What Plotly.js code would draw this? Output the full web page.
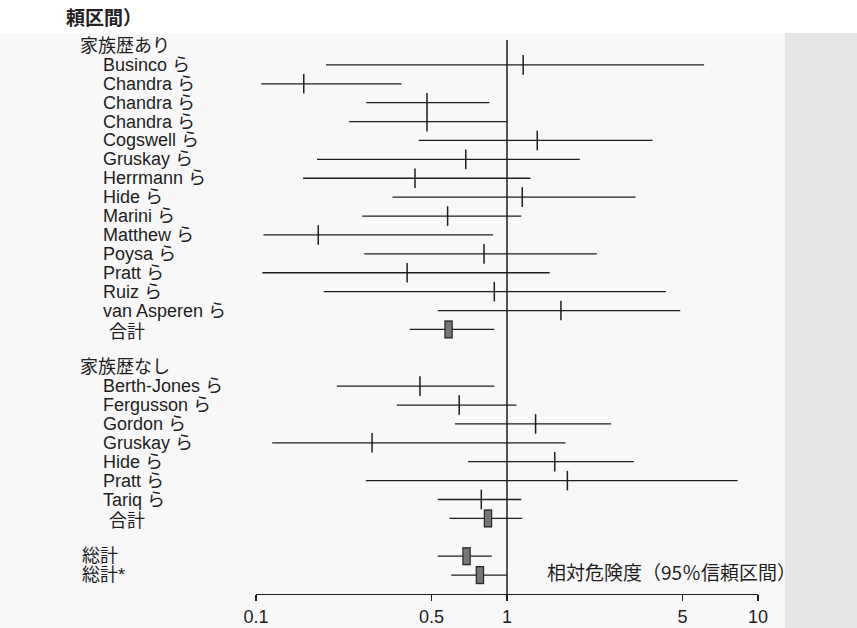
<!DOCTYPE html>
<html>
<head>
<meta charset="utf-8">
<script src="https://cdn.plot.ly/plotly-3.0.1.min.js"></script>
<style>html,body{margin:0;padding:0;background:#f8f8f8;}#chart{width:857px;height:628px;}</style>
</head>
<body>
<div id="chart"></div>
<script>
// ---- data (one entry per row, top to bottom) ----
const rowLabels = ['家族歴あり','Businco ら','Chandra ら','Chandra ら','Chandra ら','Cogswell ら','Gruskay ら','Herrmann ら','Hide ら','Marini ら','Matthew ら','Poysa ら','Pratt ら','Ruiz ら','van Asperen ら','合計','',
  '家族歴なし','Berth-Jones ら','Fergusson ら','Gordon ら','Gruskay ら','Hide ら','Pratt ら','Tariq ら','合計','',
  '総計','総計*'];
const rowKind = ['head','study','study','study','study','study','study','study','study','study','study','study','study','study','study','pool','blank',
  'head','study','study','study','study','study','study','study','pool','blank',
  'total','total'];
const lower = [null,0.19,0.105,0.275,0.235,0.445,0.175,0.154,0.35,0.265,0.107,0.27,0.106,0.186,0.53,0.41,null,
  null,0.21,0.364,0.62,0.116,0.70,0.274,0.53,0.59,null,
  0.53,0.60];
const estimate = [null,1.16,0.155,0.48,0.48,1.32,0.685,0.43,1.15,0.58,0.177,0.81,0.40,0.89,1.64,0.585,null,
  null,0.45,0.645,1.30,0.29,1.55,1.74,0.79,0.84,null,
  0.69,0.78];
const upper = [null,6.1,0.38,0.85,1.0,3.8,1.95,1.24,3.25,1.14,0.88,2.28,1.48,4.3,4.9,0.89,null,
  null,0.89,1.09,2.6,1.71,3.2,8.3,1.14,1.15,null,
  0.87,1.0];
const tickValues = [0.1,0.5,1,5,10];
const tickLabels = ['0.1','0.5','1','5','10'];
const axisTitle = '相対危険度（95％信頼区間）';
const caption = '頼区間）';

// ---- build traces ----
const ciX = [], ciY = [];
const stX = [], stY = [], poX = [], poY = [];
rowLabels.forEach((lab, i) => {
  if (lower[i] == null) return;
  ciX.push(lower[i], upper[i], null);
  ciY.push(i, i, null);
  if (rowKind[i] === 'study') { stX.push(estimate[i]); stY.push(i); }
  else { poX.push(estimate[i]); poY.push(i); }
});

const ink = '#1e1e1e';
const traces = [
  {x: ciX, y: ciY, type: 'scatter', mode: 'lines', line: {color: ink, width: 1.3}, hoverinfo: 'skip', showlegend: false},
  {x: stX, y: stY, type: 'scatter', mode: 'markers', marker: {symbol: 'line-ns', size: 14, line: {color: ink, width: 1.5}}, showlegend: false},
  {x: poX, y: poY, type: 'scatter', mode: 'markers', marker: {symbol: 'line-ns', size: 13, line: {color: '#2a2a2a', width: 8.5}}, showlegend: false},
  {x: poX, y: poY, type: 'scatter', mode: 'markers', marker: {symbol: 'line-ns', size: 11, line: {color: '#767676', width: 6}}, showlegend: false}
];

// ---- label annotations ----
const L = 256, W = 502;
const px2x = p => (p - L) / W;
const px2y = p => (594 - p) / 554;
const indent = {head: 78, study: 101, pool: 107, total: 80};
const shiftY = {head: 0, study: 0, pool: -3, total: 0};
const fontFam = 'Liberation Sans, Arial, Noto Sans CJK JP, sans-serif';
const annotations = [];
rowLabels.forEach((lab, i) => {
  if (!lab) return;
  annotations.push({xref: 'paper', yref: 'y', x: px2x(indent[rowKind[i]]), y: i, yshift: shiftY[rowKind[i]],
    xanchor: 'left', yanchor: 'middle', text: lab, showarrow: false,
    font: {family: fontFam, size: 18, color: ink}});
});
annotations.push({xref: 'paper', yref: 'paper', x: px2x(545), y: px2y(571), xanchor: 'left', yanchor: 'middle',
  text: axisTitle, showarrow: false, font: {family: 'Noto Sans CJK JP, sans-serif', size: 19, color: ink}});
annotations.push({xref: 'paper', yref: 'paper', x: px2x(64), y: px2y(16), xanchor: 'left', yanchor: 'middle',
  text: '<b>' + caption + '</b>', showarrow: false, font: {family: 'Noto Sans CJK JP, sans-serif', size: 19, color: '#222'}});

const layout = {
  width: 857, height: 628,
  margin: {l: L, r: 857 - L - W, t: 40, b: 34, pad: 0},
  paper_bgcolor: '#f8f8f8', plot_bgcolor: 'rgba(0,0,0,0)',
  showlegend: false,
  xaxis: {type: 'log', range: [-1, 1], showgrid: false, zeroline: false,
    showline: true, linecolor: ink, linewidth: 1.3,
    ticks: 'outside', ticklen: 6, tickwidth: 1.3, tickcolor: ink,
    tickvals: tickValues, ticktext: tickLabels,
    tickfont: {family: 'Liberation Sans, Arial, sans-serif', size: 18, color: ink},
    fixedrange: true},
  yaxis: {range: [29.0, -0.317], visible: false, fixedrange: true},
  shapes: [
    {type: 'rect', xref: 'paper', yref: 'paper', x0: px2x(0), x1: px2x(857), y0: px2y(33), y1: px2y(0),
      fillcolor: '#ffffff', line: {width: 0}, layer: 'below'},
    {type: 'rect', xref: 'paper', yref: 'paper', x0: px2x(785), x1: px2x(857), y0: px2y(628), y1: px2y(33),
      fillcolor: '#e6e6e6', line: {width: 0}, layer: 'below'},
    {type: 'line', xref: 'x', yref: 'paper', x0: 1, x1: 1, y0: 0, y1: 1, line: {color: ink, width: 1.5}}
  ],
  annotations: annotations
};

Plotly.newPlot('chart', traces, layout, {staticPlot: true, displayModeBar: false});
</script>
</body>
</html>
